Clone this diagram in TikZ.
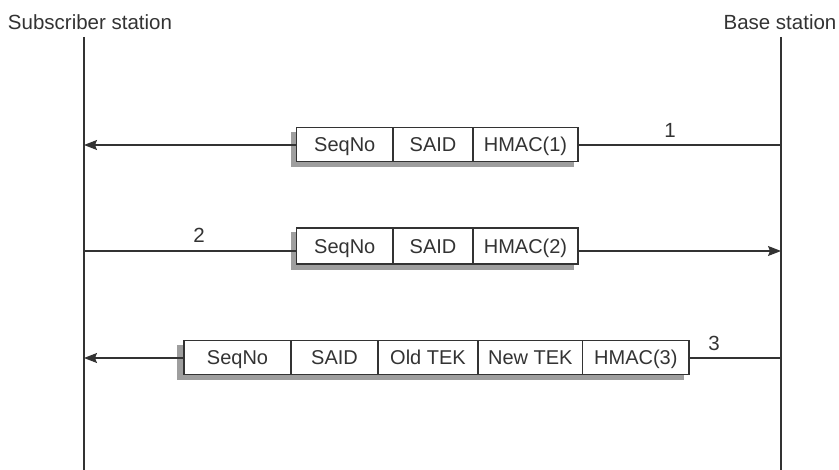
\documentclass[tikz,border=0pt]{standalone}
\usepackage{fontspec}
\setmainfont{Liberation Sans}
\usepackage{tikz}
\usetikzlibrary{arrows.meta, backgrounds, calc}
\definecolor{darkline}{rgb}{0.2, 0.2, 0.2}
\definecolor{shadowgray}{rgb}{0.62, 0.62, 0.62}

\tikzset{
	cell/.style={draw=darkline, line width=1.1pt, fill=white, inner sep=0pt, minimum height=34pt, text height=17pt, text depth=2pt, text=darkline, font=\fontsize{20}{23}\selectfont},
	lifeline/.style={darkline, line width=1.4pt},
	msg/.style={darkline, line width=1.1pt},
	tip/.style={-{Stealth[length=13pt, width=10pt, inset=2pt]}},
	lbl/.style={text=darkline, font=\fontsize{20.5}{23}\selectfont, inner sep=0pt}
}

\begin{document}
\begin{tikzpicture}[x=1pt, y=-1pt]
		\useasboundingbox (0,0) rectangle (839,470);
		% stations
		\node [lbl] (sub) at (90, 22) {Subscriber station};
		\node [lbl] (base) at (780, 22) {Base station};
		\coordinate (ss-top) at (84, 37);
		\coordinate (ss-bot) at (84, 470);
		\coordinate (bs-top) at (781, 37);
		\coordinate (bs-bot) at (781, 470);
		\draw [lifeline] (ss-top)--(ss-bot);
		\draw [lifeline] (bs-top)--(bs-bot);
		\foreach \r/\y in {1/145, 2/251, 3/358}{
			\coordinate (ss\r) at (84, \y);
			\coordinate (bs\r) at (781, \y);
		}
		% message 1
		\node [cell, minimum width=96.5pt] (seq1) at (344.75, 144.5) {SeqNo};
		\node [cell, minimum width=80pt] (said1) at (433, 144.5) {SAID};
		\node [cell, minimum width=105pt] (hmac1) at (525.5, 144.5) {HMAC(1)};
		% message 2
		\node [cell, minimum width=96.5pt, minimum height=36pt] (seq2) at (344.75, 246) {SeqNo};
		\node [cell, minimum width=80pt, minimum height=36pt] (said2) at (433, 246) {SAID};
		\node [cell, minimum width=105pt, minimum height=36pt] (hmac2) at (525.5, 246) {HMAC(2)};
		% message 3
		\node [cell, minimum width=107pt] (seq3) at (237.5, 357.5) {SeqNo};
		\node [cell, minimum width=87pt] (said3) at (334.5, 357.5) {SAID};
		\node [cell, minimum width=100pt] (old3) at (428, 357.5) {Old TEK};
		\node [cell, minimum width=104.7pt] (new3) at (530.35, 357.5) {New TEK};
		\node [cell, minimum width=106.3pt] (hmac3) at (635.85, 357.5) {HMAC(3)};
		\begin{pgfonlayer}{background}
			\fill [shadowgray] ($(seq1.north west)+(-5,5)$) rectangle ($(hmac1.south east)+(-5,5)$);
			\fill [shadowgray] ($(seq2.north west)+(-5,5)$) rectangle ($(hmac2.south east)+(-5,5)$);
			\fill [shadowgray] ($(seq3.north west)+(-6,5)$) rectangle ($(hmac3.south east)+(-6,5)$);
		\end{pgfonlayer}
		% connectors
		\draw [msg] (bs1)--(hmac1.east |- bs1);
		\draw [msg, tip] (seq1.west |- bs1)--(ss1);
		\draw [msg] (ss2)--(seq2.west |- ss2);
		\draw [msg, tip] (hmac2.east |- ss2)--(bs2);
		\draw [msg] (bs3)--(hmac3.east |- bs3);
		\draw [msg, tip] (seq3.west |- bs3)--(ss3);
		\node [lbl] (n1) at (670, 130) {1};
		\node [lbl] (n2) at (199, 235) {2};
		\node [lbl] (n3) at (714, 343) {3};
	\end{tikzpicture}
\end{document}
